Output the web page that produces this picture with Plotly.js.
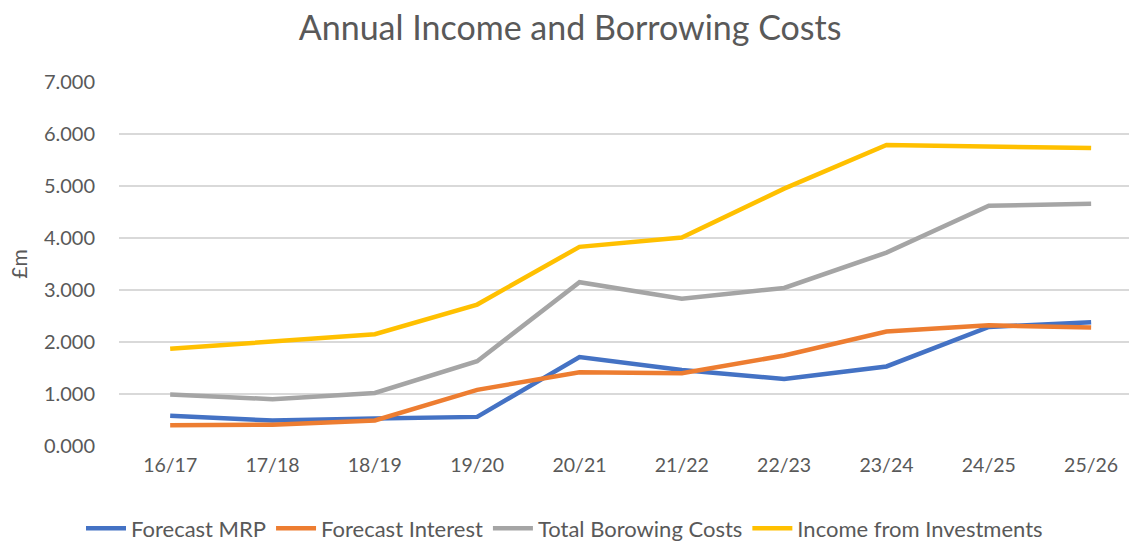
<!DOCTYPE html>
<html>
<head>
<meta charset="utf-8">
<script src="https://cdn.plot.ly/plotly-3.0.1.min.js"></script>
<style>html,body{margin:0;padding:0;background:#fff;}#chart{width:1129px;height:541px;}</style>
</head>
<body>
<div id="chart"></div>
<script>
const categories = ["16/17","17/18","18/19","19/20","20/21","21/22","22/23","23/24","24/25","25/26"];
const forecastMRP = [0.58, 0.49, 0.53, 0.56, 1.71, 1.46, 1.29, 1.53, 2.29, 2.38];
const forecastInterest = [0.40, 0.41, 0.49, 1.08, 1.42, 1.40, 1.74, 2.20, 2.32, 2.28];
const totalBorrowingCosts = [0.99, 0.90, 1.02, 1.63, 3.15, 2.83, 3.04, 3.72, 4.62, 4.66];
const incomeFromInvestments = [1.87, 2.01, 2.15, 2.72, 3.83, 4.01, 4.95, 5.79, 5.76, 5.73];
const seriesNames = ["Forecast MRP","Forecast Interest","Total Borowing Costs","Income from Investments"];
const seriesColors = ["#4472C4","#ED7D31","#A5A5A5","#FFC000"];
const yTickVals = [0,1,2,3,4,5,6,7];
const yTickText = ["0.000","1.000","2.000","3.000","4.000","5.000","6.000","7.000"];

const FONT = "Lato, 'Open Sans', sans-serif";
const allSeries = [forecastMRP, forecastInterest, totalBorrowingCosts, incomeFromInvestments];
const traces = allSeries.map((vals, i) => ({
  type: "scatter", mode: "lines",
  x: categories.map((c, k) => k), y: vals,
  name: seriesNames[i],
  line: {color: seriesColors[i], width: 4.5, shape: "linear"},
  hoverinfo: "skip"
}));

const layout = {
  width: 1129, height: 541,
  margin: {l: 119, r: 0, t: 82, b: 95, autoexpand: false},
  paper_bgcolor: "#ffffff", plot_bgcolor: "#ffffff",
  font: {family: FONT, color: "#595959", size: 20},
  title: {text: "Annual Income and Borrowing Costs", x: 0.505, xref: "container", xanchor: "center", y: 0.948, yref: "container", yanchor: "middle",
          font: {family: FONT, size: 34, color: "#595959"}},
  xaxis: {
    range: [-0.5, 9.37], tickmode: "array", tickvals: categories.map((c, k) => k), ticktext: categories,
    showgrid: false, zeroline: false, showline: false, ticks: "", tickangle: 0, automargin: false,
    ticklabelstandoff: 5,
    tickfont: {family: FONT, size: 19.5, color: "#595959"}, fixedrange: true
  },
  yaxis: {
    range: [0, 7], tickmode: "array", tickvals: yTickVals, ticktext: yTickText, automargin: false,
    showgrid: true, gridcolor: "#D9D9D9", gridwidth: 1.5, zeroline: false, showline: false, ticks: "",
    ticklabelstandoff: 23,
    tickfont: {family: FONT, size: 20, color: "#595959"},
    title: {text: "£m", standoff: 10, font: {family: FONT, size: 21, color: "#595959"}}, fixedrange: true
  },
  showlegend: true,
  legend: {orientation: "h", x: 0.5, xref: "container", xanchor: "center", y: 0.062, yref: "container", yanchor: "top",
           font: {family: FONT, size: 22, color: "#595959"}, itemwidth: 40, tracegroupgap: 0, traceorder: "normal"}
};

Plotly.newPlot("chart", traces, layout, {displayModeBar: false, staticPlot: true});
</script>
</body>
</html>
